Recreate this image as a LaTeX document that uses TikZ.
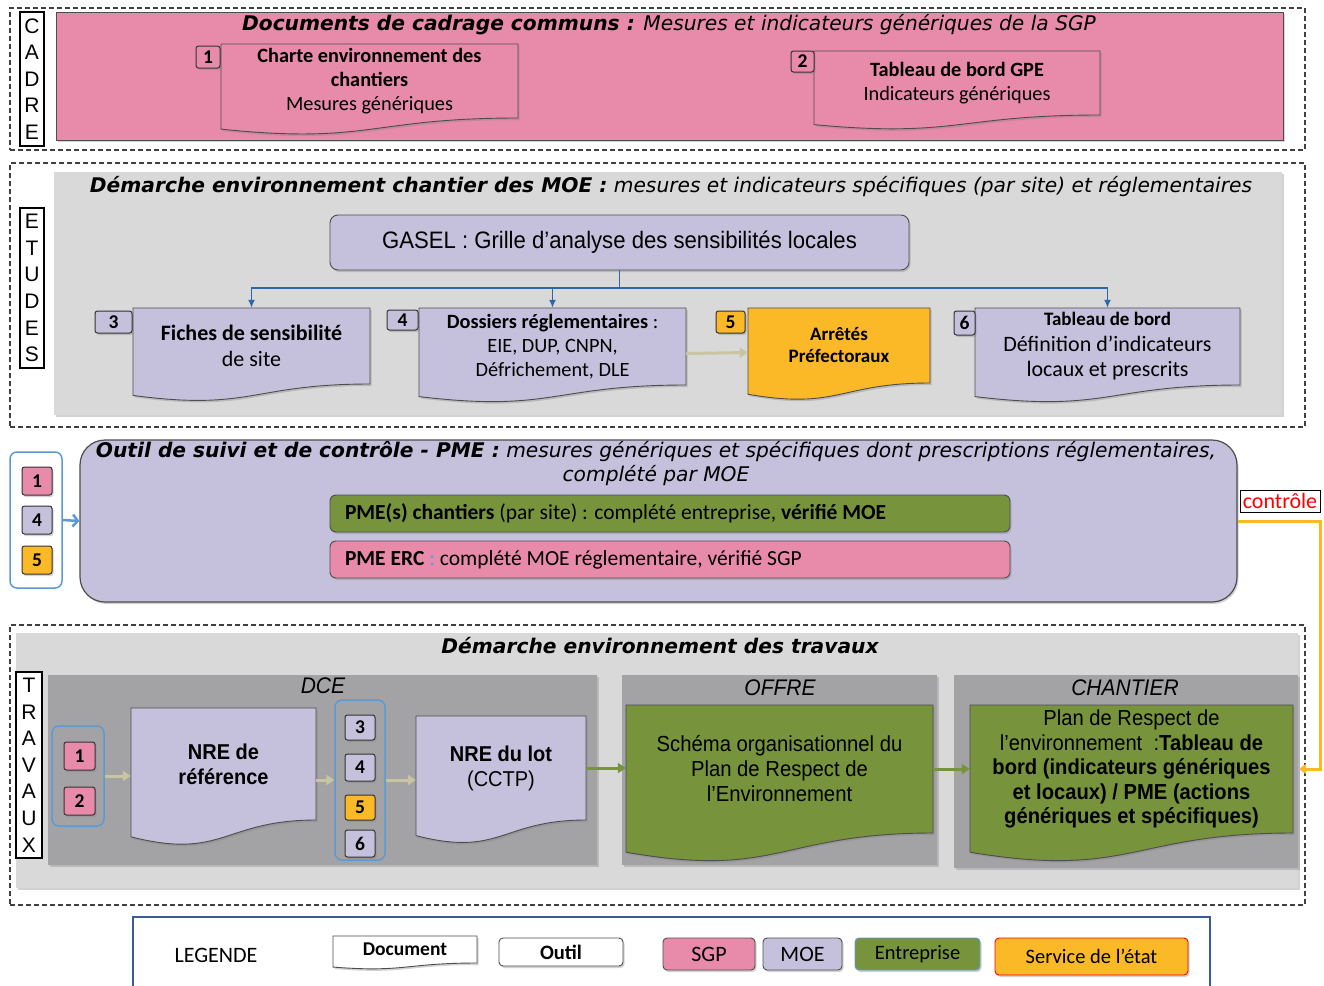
\documentclass[tikz,border=0pt]{standalone}
\usepackage{fontspec}
\setmainfont{Carlito}
\newfontfamily\titlefont{DejaVu Sans}
\newfontfamily\narrowfont[FakeStretch=0.93]{Liberation Sans}
\newfontfamily\arialfont{Liberation Sans}
\usetikzlibrary{calc,shadows,arrows.meta}
\definecolor{sgp}{HTML}{E88AAA}
\definecolor{moe}{HTML}{C5C1DC}
\definecolor{etat}{HTML}{FBB928}
\definecolor{entr}{HTML}{77933C}
\definecolor{lgray}{HTML}{D9D9D9}
\definecolor{dgray}{HTML}{A3A3A6}
\definecolor{linkblue}{HTML}{2E66AA}
\definecolor{grpblue}{HTML}{5B9BD5}
\definecolor{khaki}{HTML}{C9C5A0}
\definecolor{legblue}{HTML}{3A5A9A}
\definecolor{edgec}{HTML}{4D4D4D}
\newcommand\fsz[2]{\fontsize{#1}{#2}\selectfont}
% name, style, x1, y1, x2, y2, text, node options
\newcommand\mkdoc[8]{%
  \path[docsty,#2] (#3,#4) -- (#5,#4) -- (#5,#6)
     .. controls ({(#3+#5)/2},#6) and ({(#3+#5)/2},{#6+0.36*(#6-#4)}) ..
     (#3,{#6+0.15*(#6-#4)}) -- cycle;
  \node[docnode,minimum width={(#5-#3)*1pt},minimum height={(#6-#4)*1pt},#8] (#1) at ({(#3+#5)/2},{(#4+#6)/2}) {#7};}
\begin{document}
\begin{tikzpicture}[x=1pt,y=-1pt,
  shad/.style={drop shadow={opacity=0.35,shadow xshift=1.5pt,shadow yshift=-2pt}},
  docsty/.style={draw=edgec,line width=0.9pt,shad},
  docnode/.style={inner sep=0pt,align=center,draw=none},
  outerdash/.style={draw=black!75,dash pattern=on 5pt off 3pt,line width=1.3pt,inner sep=0pt},
  letterbox/.style={draw=black,line width=1.2pt,fill=white,inner sep=0pt,align=center,font=\arialfont\fsz{21}{26.6}},
  panelsty/.style={inner sep=0pt,shad},
  plainbox/.style={draw=edgec,line width=0.9pt,inner sep=0pt,shad},
  numbox/.style={draw=black!80,line width=1pt,rounded corners=2.5pt,inner sep=0pt,font=\bfseries\fsz{19.5}{21},shad},
  grpbox/.style={draw=grpblue,line width=1.5pt,rounded corners=7pt,inner sep=0pt},
  titlesty/.style={inner sep=0pt,font=\titlefont\itshape\fsz{20.2}{24}},
  linkline/.style={draw=linkblue,line width=1.4pt},
  khakiarrow/.style={draw=khaki,line width=3pt,-{Triangle[length=8pt,width=10pt]}},
  greenarrow/.style={draw=entr,line width=3pt,-{Triangle[length=8pt,width=10pt]}},
  orangeline/.style={draw=etat,line width=3pt,-{Triangle[length=7pt,width=10pt]}},
  barsty/.style={draw=edgec,line width=0.9pt,rounded corners=6pt,inner sep=0pt,shad}
]
\useasboundingbox[fill=white] (0,0) rectangle (1324,985);

% ===================== CADRE =====================
\node[outerdash,minimum width=1295pt,minimum height=142pt] (cadreframe) at (657.5,79) {};
\node[panelsty,fill=sgp,draw=edgec,line width=1pt,minimum width=1227pt,minimum height=128pt] (cadrepanel) at (669.5,76) {};
\node[letterbox,minimum width=24pt,minimum height=134pt] (cadrelbl) at (32,79) {C\\A\\D\\R\\E};
\node[titlesty] (cadretitle) at (669,25) {\bfseries Documents de cadrage communs :\mdseries{} Mesures et indicateurs génériques de la SGP};
\mkdoc{d1}{fill=sgp}{221}{44}{518}{118}{\textbf{Charte environnement des}\\\textbf{chantiers}\\Mesures génériques}{font=\fsz{20.3}{24}}
\node[numbox,fill=sgp,minimum width=24pt,minimum height=22pt] (n1) at (208,57) {1};
\mkdoc{d2}{fill=sgp}{814}{51}{1100}{115}{\textbf{Tableau de bord GPE}\\Indicateurs génériques}{font=\fsz{20.3}{24}}
\node[numbox,fill=sgp,minimum width=23pt,minimum height=21pt] (n2) at (802.5,61.5) {2};

% ===================== ETUDES =====================
\node[outerdash,minimum width=1295pt,minimum height=264pt] (etframe) at (657.5,295) {};
\node[panelsty,fill=lgray,minimum width=1228pt,minimum height=243pt] (etpanel) at (668,293.5) {};
\node[letterbox,minimum width=24pt,minimum height=160pt] (etlbl) at (32,288) {E\\T\\U\\D\\E\\S};
\node[titlesty] (ettitle) at (671,187) {\bfseries Démarche environnement chantier des MOE :\mdseries{} mesures et indicateurs spécifiques (par site) et réglementaires};
\node[plainbox,fill=moe,rounded corners=8pt,minimum width=579pt,minimum height=55pt,font=\narrowfont\fsz{23.8}{27}] (gasel) at (619.5,242.5) {GASEL : Grille d’analyse des sensibilités locales};

\mkdoc{d3}{fill=moe}{133}{308}{370}{384}{\textbf{Fiches de sensibilité}\\de site}{font=\fsz{22}{26}}
\node[numbox,fill=moe,minimum width=37pt,minimum height=22pt] (n3) at (113.5,322) {3};
\mkdoc{d4}{fill=moe}{419}{308}{686}{385}{\textbf{Dossiers réglementaires} :\\EIE, DUP, CNPN,\\Défrichement, DLE}{font=\fsz{20.3}{24}}
\node[numbox,fill=moe,minimum width=31pt,minimum height=20pt] (n4) at (402.5,320) {4};
\mkdoc{d5}{fill=etat}{748}{308}{930}{383}{\textbf{Arrêtés}\\\textbf{Préfectoraux}}{font=\fsz{19}{22}}
\node[numbox,fill=etat,minimum width=29pt,minimum height=22pt] (n5) at (730.5,322) {5};
\mkdoc{d6}{fill=moe}{975}{308}{1240}{385}{{\fsz{19}{21}\textbf{Tableau de bord}}\\Définition d’indicateurs\\locaux et prescrits}{font=\fsz{22}{25.5}}
\node[numbox,fill=moe,minimum width=21pt,minimum height=24pt] (n6) at (964.5,323) {6};

\coordinate (gj) at (gasel.south |- 0,288);
\draw[linkline] (gasel.south) -- (gj);
\draw[linkline,-{Latex[length=8pt,width=7pt]}] (gj) -| (d3.north);
\draw[linkline,-{Latex[length=8pt,width=7pt]}] (gj) -| (d4.north);
\draw[linkline,-{Latex[length=8pt,width=7pt]}] (gj) -| (d6.north);
\draw[khakiarrow] ($(d4.east)+(0,7)$) -- ($(d5.west)+(0,7)$);

% ===================== PME =====================
\node[plainbox,fill=moe,rounded corners=25pt,line width=1.2pt,minimum width=1157pt,minimum height=162pt] (pme) at (658.5,521) {};
\node[titlesty,align=center] (pmetitle) at (656,464) {\textbf{Outil de suivi et de contrôle - PME :} mesures génériques et spécifiques dont prescriptions réglementaires,\\complété par MOE};
\node[barsty,fill=entr,minimum width=680pt,minimum height=37pt,text width=650pt,align=flush left,font=\fsz{21.5}{23}] (pmech) at (670,513.5) {\textbf{PME(s) chantiers} (par site) : complété entreprise, \textbf{vérifié MOE}};
\node[barsty,fill=sgp,minimum width=680pt,minimum height=37pt,text width=650pt,align=flush left,font=\fsz{21.5}{23}] (pmeerc) at (670,559.5) {\textbf{PME ERC} {\color{grpblue}:} complété MOE réglementaire, vérifié SGP};

\node[grpbox,fill=white,minimum width=52pt,minimum height=136pt] (g1) at (36,520) {};
\node[numbox,fill=sgp,minimum width=30pt,minimum height=28pt] (p1) at (37,481) {1};
\node[numbox,fill=moe,minimum width=30pt,minimum height=28pt] (p4) at (37,520) {4};
\node[numbox,fill=etat,minimum width=30pt,minimum height=28pt] (p5) at (37,560) {5};
\draw[draw=grpblue,line width=2.5pt,-{Straight Barb[length=5pt,width=12pt]}] (g1.east) -- (pme.west);

\node[draw=black,fill=white,line width=0.8pt,inner sep=0pt,text=red,font=\fsz{22}{24},minimum width=80pt,minimum height=22pt] (ctrl) at (1280,501) {contrôle};

% ===================== TRAVAUX =====================
\node[outerdash,minimum width=1295pt,minimum height=280pt] (trframe) at (657.5,765) {};
\node[panelsty,fill=lgray,minimum width=1282pt,minimum height=255pt] (trpanel) at (657,760.5) {};
\node[letterbox,minimum width=26pt,minimum height=186pt] (trlbl) at (29,765) {T\\R\\A\\V\\A\\U\\X};
\node[titlesty,font=\titlefont\itshape\bfseries\fsz{20.2}{24}] (trtitle) at (660,646) {Démarche environnement des travaux};

\node[panelsty,fill=dgray,minimum width=549pt,minimum height=190pt] (dcepanel) at (322.5,770) {};
\node[panelsty,fill=dgray,minimum width=315pt,minimum height=190pt] (offpanel) at (779.5,770) {};
\node[panelsty,fill=dgray,minimum width=344pt,minimum height=193pt] (chpanel) at (1126,771.5) {};
\node[inner sep=0pt,font=\narrowfont\itshape\fsz{22.6}{25}] (dcetitle) at (323,686) {DCE};
\node[inner sep=0pt,font=\narrowfont\itshape\fsz{22.6}{25}] (offtitle) at (780,688) {OFFRE};
\node[inner sep=0pt,font=\narrowfont\itshape\fsz{22.6}{25}] (chtitle) at (1125,688) {CHANTIER};

\node[grpbox,minimum width=52pt,minimum height=100pt] (g2) at (78,776) {};
\node[numbox,fill=sgp,minimum width=31pt,minimum height=28pt] (t1) at (79.5,756) {1};
\node[numbox,fill=sgp,minimum width=31pt,minimum height=28pt] (t2) at (79.5,801) {2};

\mkdoc{dnref}{fill=moe}{131}{708}{316}{820}{NRE de\\référence}{font=\narrowfont\bfseries\fsz{21.5}{25}}

\node[grpbox,minimum width=50pt,minimum height=160pt] (g3) at (360,780) {};
\node[numbox,fill=moe,minimum width=30pt,minimum height=25pt] (t3) at (360,727.5) {3};
\node[numbox,fill=moe,minimum width=30pt,minimum height=27pt] (t4) at (360,767.5) {4};
\node[numbox,fill=etat,minimum width=30pt,minimum height=25pt] (t5) at (360,807.5) {5};
\node[numbox,fill=moe,minimum width=30pt,minimum height=27pt] (t6) at (360,843.5) {6};

\mkdoc{dnlot}{fill=moe}{416}{716}{586}{820}{\textbf{NRE du lot}\\(CCTP)}{font=\narrowfont\fsz{21.5}{25}}
\mkdoc{doffre}{fill=entr}{626}{705}{933}{833}{Schéma organisationnel du\\Plan de Respect de\\l’Environnement}{font=\narrowfont\fsz{21.8}{25}}
\mkdoc{dch}{fill=entr}{970}{705}{1293}{833}{Plan de Respect de\\l’environnement\ \ :\textbf{Tableau de}\\\textbf{bord (indicateurs génériques}\\\textbf{et locaux) / PME (actions}\\\textbf{génériques et spécifiques)}}{font=\narrowfont\fsz{21.7}{24.5}}

\draw[khakiarrow] (g2.east) -- (g2.east -| dnref.west);
\draw[khakiarrow] (g3.west -| dnref.east) -- (g3.west);
\draw[khakiarrow] (g3.east) -- (g3.east -| dnlot.west);
\draw[greenarrow] (dnlot.east) -- (dnlot.east -| doffre.west);
\draw[greenarrow] (doffre.east) -- (doffre.east -| dch.west);

% control loop
\coordinate (oc) at (1320,521);
\coordinate (ctarget) at (1299,769);
\draw[orangeline] (pme.east) -- (oc) |- (ctarget);

% ===================== LEGENDE =====================
\node[draw=legblue,line width=2pt,inner sep=0pt,minimum width=1077pt,minimum height=80pt] (legend) at (671.5,957) {};
\node[inner sep=0pt,font=\fsz{22}{24}] (legtitle) at (216,955) {LEGENDE};
\mkdoc{lgdoc}{fill=white}{333}{936}{477}{963}{\textbf{Document}}{font=\fsz{19.5}{21}}
\node[plainbox,fill=white,rounded corners=4pt,minimum width=124pt,minimum height=28pt,font=\bfseries\fsz{20.5}{22}] (lgtool) at (561,952) {Outil};
\node[plainbox,fill=sgp,rounded corners=4pt,minimum width=92pt,minimum height=32pt,font=\fsz{22}{24}] (lgsgp) at (709,954) {SGP};
\node[plainbox,fill=moe,rounded corners=4pt,minimum width=79pt,minimum height=32pt,font=\fsz{22}{24}] (lgmoe) at (802.5,954) {MOE};
\node[plainbox,draw=grpblue,fill=entr,rounded corners=4pt,minimum width=125pt,minimum height=32pt,font=\fsz{20.5}{22}] (lgent) at (917.5,954) {Entreprise};
\node[plainbox,draw=red,fill=etat,rounded corners=4pt,minimum width=193pt,minimum height=37pt,font=\fsz{20.5}{22}] (lgetat) at (1091.5,956.5) {Service de l’état};
\end{tikzpicture}
\end{document}
